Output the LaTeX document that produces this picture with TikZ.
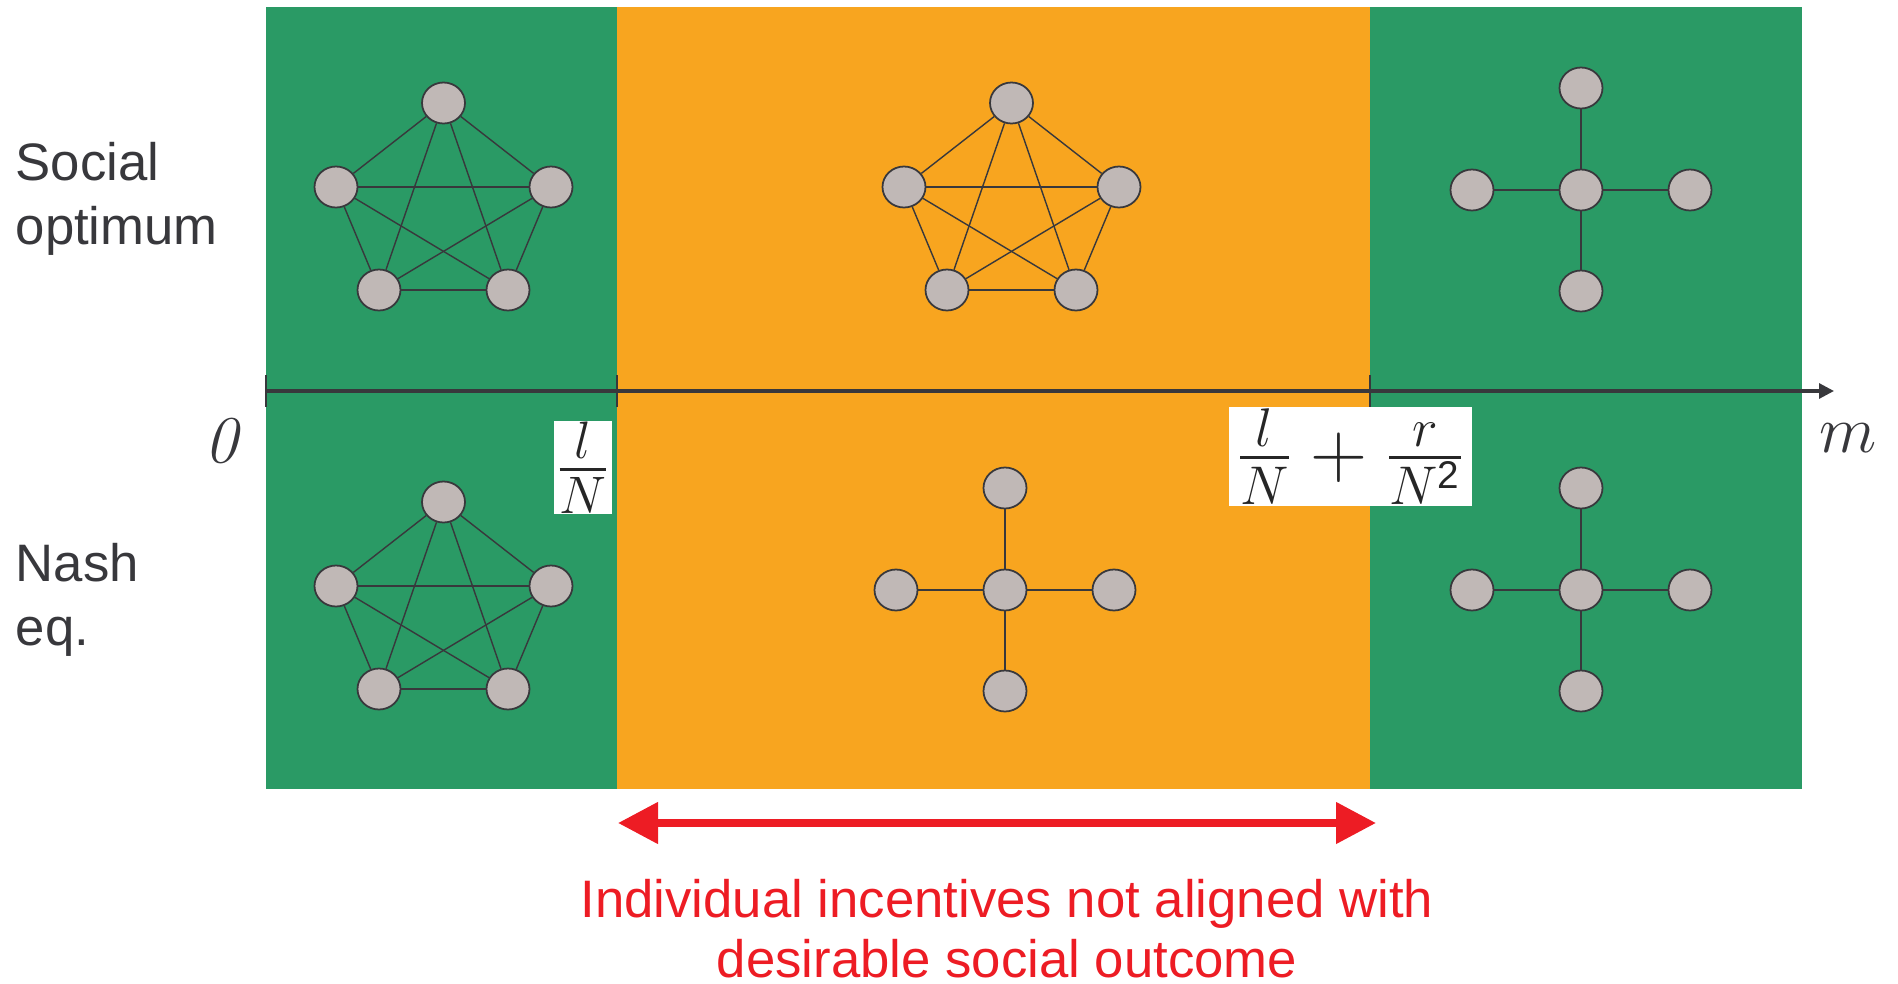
\RequirePackage{fix-cm}
\documentclass[tikz,border=0pt]{standalone}
\usepackage{amsmath}
\usepackage{fontspec}
\newfontfamily\labelfont{Liberation Sans}
\usetikzlibrary{arrows.meta,shapes.geometric}
\DeclareMathSizes{21}{21}{15}{10.5}
\DeclareMathSizes{22.5}{22.5}{15.5}{11}

\definecolor{fieldgreen}{HTML}{2A9A65}
\definecolor{fieldorange}{HTML}{F8A51F}
\definecolor{agentgray}{HTML}{C0B8B6}
\definecolor{inkgray}{HTML}{38383C}
\definecolor{alertred}{HTML}{ED1C24}

% complete graph on five agents, #1 = name prefix, #2 = reference point
\newcommand{\completegraph}[2]{%
  \path (#2) +(0,0.84) node[agent] (#1-a) {}
             +(-1.075,0) node[agent] (#1-b) {}
             +(1.075,0) node[agent] (#1-c) {}
             +(-0.645,-1.03) node[agent] (#1-d) {}
             +(0.645,-1.03) node[agent] (#1-e) {};
  \foreach \u/\v in {a/b,a/c,a/d,a/e,b/c,b/d,b/e,c/d,c/e,d/e}
    \draw[link] (#1-\u) -- (#1-\v);
}

% star on five agents, #1 = name prefix, #2 = hub position
\newcommand{\stargraph}[2]{%
  \path (#2) node[agent] (#1-c) {}
             +(0,1.02) node[agent] (#1-n) {}
             +(-1.09,0) node[agent] (#1-w) {}
             +(1.09,0) node[agent] (#1-e) {}
             +(0,-1.01) node[agent] (#1-s) {};
  \foreach \v in {n,w,e,s}
    \draw[link] (#1-c) -- (#1-\v);
}

\begin{document}
\begin{tikzpicture}[
    agent/.style={ellipse, draw=inkgray, fill=agentgray, line width=0.5pt,
      minimum width=0.43cm, minimum height=0.41cm, inner sep=0pt},
    link/.style={draw=inkgray, line width=0.4pt},
    rowlabel/.style={text=inkgray, align=left, inner sep=0pt,
      font=\labelfont\fontsize{15}{18}\selectfont},
    mathlabel/.style={text=inkgray, inner sep=0pt,
      font=\fontsize{19}{23}\selectfont},
    cutlabel/.style={text=black!85, fill=white, inner xsep=0.5pt, inner ysep=0.3pt}
  ]

  % Parameters
  \def\ytop{9.76}      % top of the coloured bands
  \def\ybot{1.94}      % bottom of the coloured bands
  \def\xa{2.66}        % m = 0
  \def\xb{6.17}        % m = l/N
  \def\xc{13.70}       % m = l/N + r/N^2
  \def\xd{18.02}       % right end of the bands
  \def\yaxis{5.92}

  \useasboundingbox (0,0) rectangle (18.98,9.83);

  % Regions
  \fill[fieldgreen] (\xa,\ybot) rectangle (\xb,\ytop);
  \fill[fieldorange] (\xb,\ybot) rectangle (\xc,\ytop);
  \fill[fieldgreen] (\xc,\ybot) rectangle (\xd,\ytop);

  % Axis with ticks
  \coordinate (origin) at (\xa,\yaxis);
  \coordinate (axisend) at (18.34,\yaxis);
  \draw[-{Triangle[length=0.15cm,width=0.15cm]}, line width=0.9pt, inkgray]
    (origin) -- (axisend);
  \foreach \x in {\xa,\xb,\xc}
    \draw[line width=0.8pt, inkgray] (\x,\yaxis+0.16) -- (\x,\yaxis-0.16);

  \node[mathlabel] (zero) at (2.21,5.42) {\itshape 0};
  \node[mathlabel] (mlabel) at (18.48,5.445) {$m$};
  \node[cutlabel, font=\fontsize{21}{25}\selectfont] (lowcut) at (5.83,5.155)
    {$\frac{l}{N}$};
  \node[cutlabel, inner xsep=2pt, font=\fontsize{22.5}{27}\selectfont]
    (highcut) at (13.505,5.265)
    {$\frac{l}{N}+\frac{r}{N^{\text{\labelfont 2}}}$};

  % Row labels
  \node[rowlabel, anchor=base west] (social) at (0.15,7.39) {Social\\optimum};
  \node[rowlabel, anchor=base west] (nash) at (0.15,3.38) {Nash\\eq.};

  % Networks: social optimum (top) and Nash equilibrium (bottom)
  \coordinate (so1) at (4.435,7.96);
  \coordinate (so2) at (10.115,7.96);
  \coordinate (so3) at (15.81,7.93);
  \coordinate (ne1) at (4.435,3.97);
  \coordinate (ne2) at (10.05,3.93);
  \coordinate (ne3) at (15.81,3.93);
  \completegraph{soA}{so1}
  \completegraph{soB}{so2}
  \stargraph{soC}{so3}
  \completegraph{neA}{ne1}
  \stargraph{neB}{ne2}
  \stargraph{neC}{ne3}

  % Misaligned range
  \coordinate (gapL) at (6.18,1.60);
  \coordinate (gapR) at (13.76,1.60);
  \draw[{Triangle[length=0.4cm,width=0.4cm]}-{Triangle[length=0.4cm,width=0.4cm]},
    line width=2.2pt, alertred] (gapL) -- (gapR);
  \node[text=alertred, align=center, inner sep=0pt, anchor=base,
    font=\labelfont\fontsize{15}{17}\selectfont] (misaligned) at (10.07,0.06)
    {Individual incentives not aligned with\\desirable social outcome};
\end{tikzpicture}
\end{document}
